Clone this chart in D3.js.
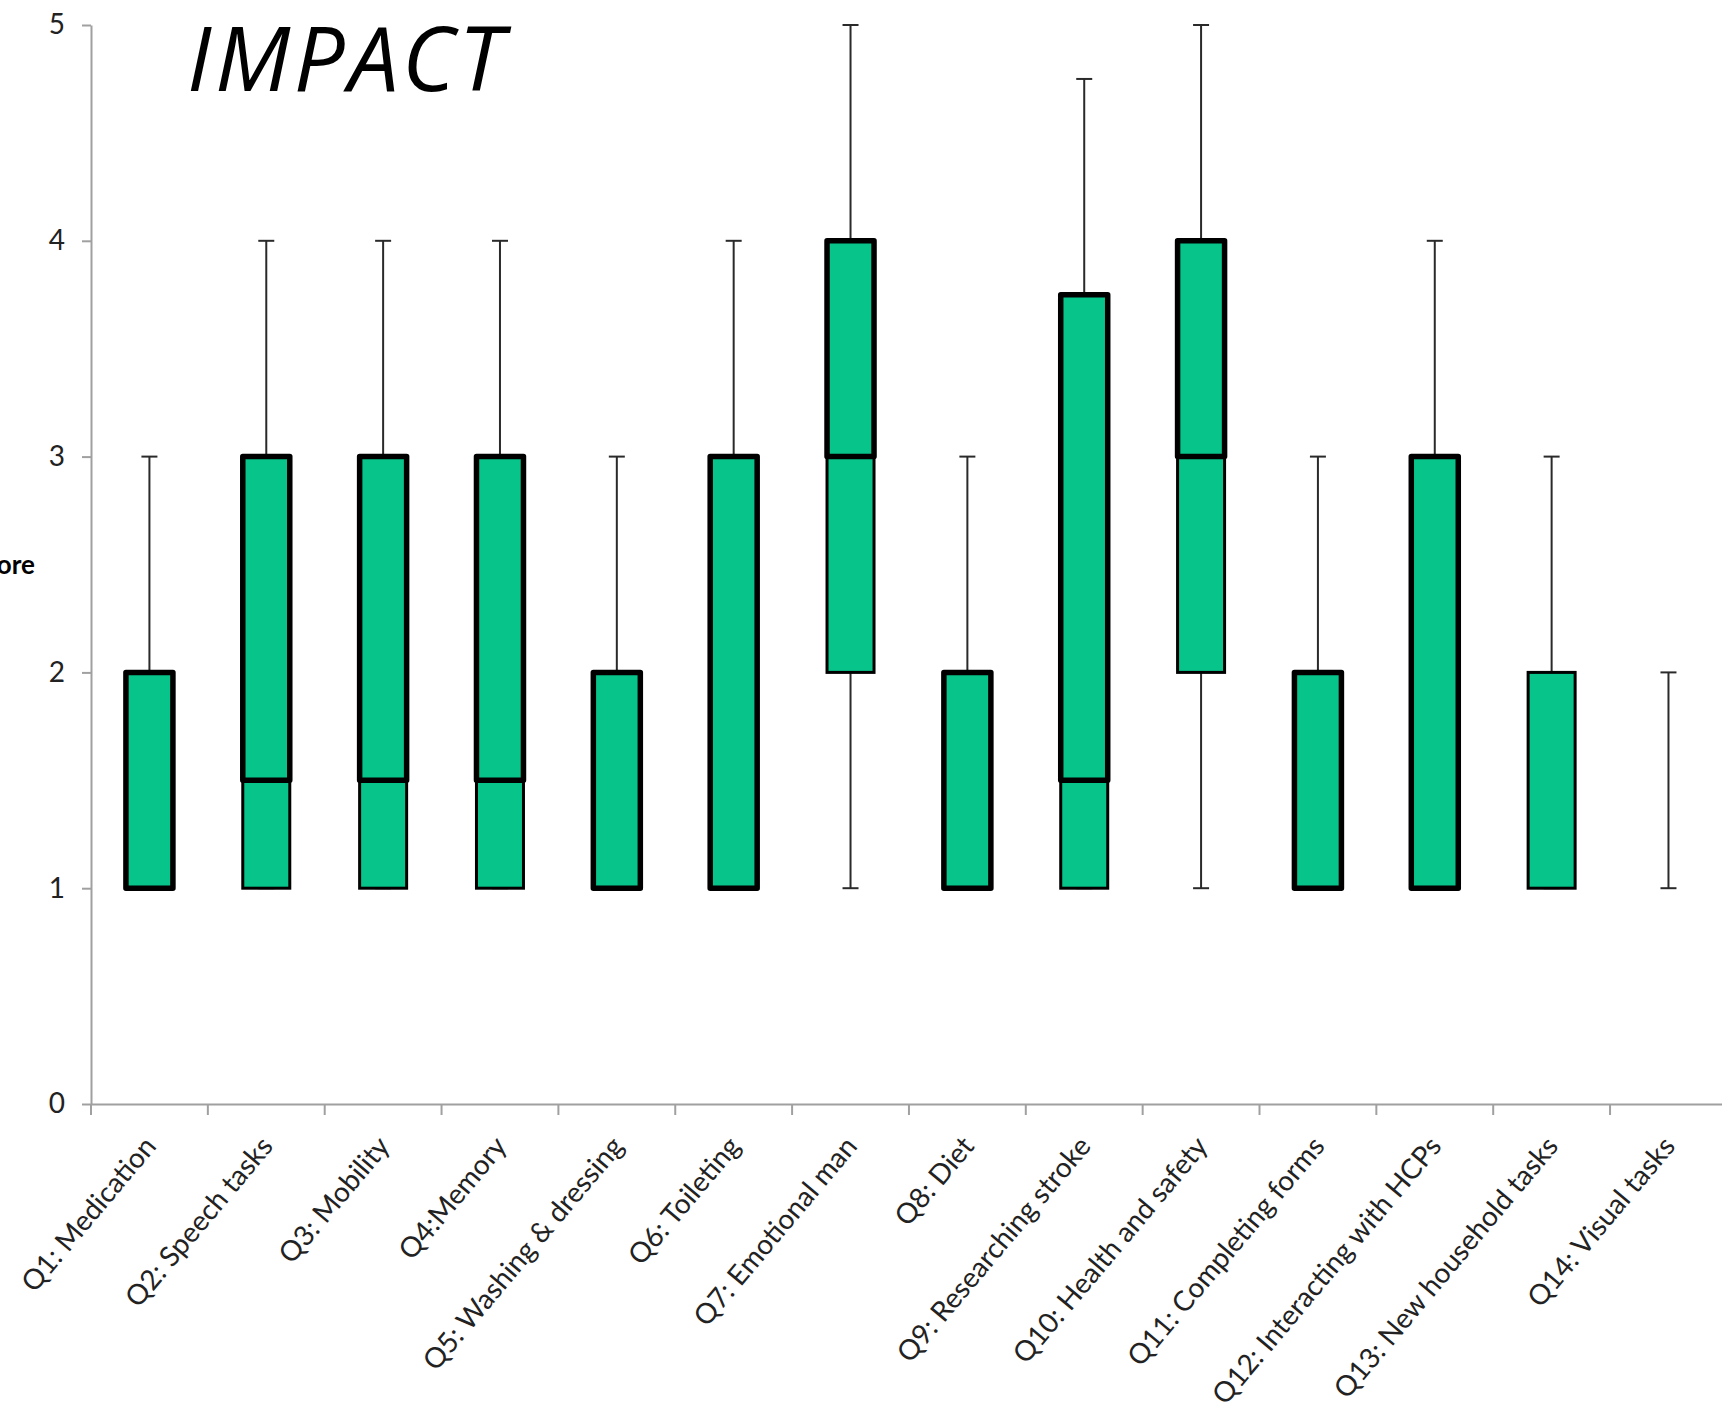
<!DOCTYPE html>
<html>
<head>
<meta charset="utf-8">
<script src="https://cdn.jsdelivr.net/npm/d3@7"></script>
<style>
  html, body { margin: 0; padding: 0; background: #fff; }
  svg { display: block; }
</style>
</head>
<body>
<div id="chart"></div>
<script>
// Box plot drawn Excel-style: lower half (Q1 -> median) thin outline,
// upper half (median -> Q3) heavy outline, whiskers min -> max.

const categories = [
  "Q1: Medication", "Q2: Speech tasks", "Q3: Mobility", "Q4:Memory",
  "Q5: Washing & dressing", "Q6: Toileting", "Q7: Emotional man", "Q8: Diet",
  "Q9: Researching stroke", "Q10: Health and safety", "Q11: Completing forms",
  "Q12: Interacting with HCPs", "Q13: New household tasks", "Q14: Visual tasks"
];
const minVals    = [1, 1,   1,   1,   1, 1, 1, 1, 1,    1, 1, 1, 1, 1];
const q1Vals     = [1, 1,   1,   1,   1, 1, 2, 1, 1,    2, 1, 1, 1, 1];
const medianVals = [1, 1.5, 1.5, 1.5, 1, 1, 3, 1, 1.5,  3, 1, 1, 2, 1];
const q3Vals     = [2, 3,   3,   3,   2, 3, 4, 2, 3.75, 4, 2, 3, 2, 1];
const maxVals    = [3, 4,   4,   4,   3, 4, 5, 3, 4.75, 5, 3, 4, 3, 2];
const yTicks = [0, 1, 2, 3, 4, 5];

const W = 1722, H = 1411;
const margin = { left: 91, top: 25, bottom: 307 };
const bandW = 116.85;

const data = categories.map((c, i) => ({
  cat: c, min: minVals[i], q1: q1Vals[i], med: medianVals[i], q3: q3Vals[i], max: maxVals[i]
}));

const svg = d3.select("#chart").append("svg")
  .attr("width", W)
  .attr("height", H)
  .attr("viewBox", `0 0 ${W} ${H}`);

svg.append("rect").attr("width", W).attr("height", H).attr("fill", "#fff");

// Scales
const x = d3.scaleBand()
  .domain(categories)
  .range([margin.left, margin.left + bandW * categories.length])
  .padding(0);
const y = d3.scaleLinear()
  .domain([0, 5])
  .range([H - margin.bottom, margin.top]);

const boxW = 47;
const capW = 16;
const FILL = "#06c48a";
const AXIS = "#a0a0a0";

// Y axis
const yAxisG = svg.append("g")
  .attr("transform", `translate(${margin.left},0)`)
  .call(d3.axisLeft(y).tickValues(yTicks).tickFormat(d3.format("d"))
    .tickSize(9).tickSizeOuter(0).tickPadding(17));
yAxisG.select(".domain").attr("stroke", AXIS).attr("stroke-width", 2);
yAxisG.selectAll(".tick line").attr("stroke", AXIS).attr("stroke-width", 2);
yAxisG.selectAll(".tick text")
  .style("font-family", "Lato, 'Open Sans', sans-serif")
  .style("font-size", "28px")
  .attr("fill", "#222");

// X axis (line runs past the right edge like the cropped original)
const xAxisG = svg.append("g")
  .attr("transform", `translate(0,${y(0)})`)
  .call(d3.axisBottom(x).tickSize(11).tickSizeOuter(0));
xAxisG.select(".domain").attr("stroke", AXIS).attr("stroke-width", 2);
xAxisG.selectAll(".tick line")
  .attr("x1", -x.bandwidth() / 2)
  .attr("x2", -x.bandwidth() / 2)
  .attr("stroke", AXIS).attr("stroke-width", 2);
xAxisG.selectAll(".tick text")
  .attr("x", 0).attr("y", 0).attr("dy", 0)
  .attr("text-anchor", "end")
  .attr("transform", "translate(8,43) rotate(-50)")
  .style("font-family", "Lato, 'Open Sans', sans-serif")
  .style("font-size", "28px")
  .attr("fill", "#222");

// Whiskers
const gBox = svg.append("g");
const cx = d => x(d.cat) + x.bandwidth() / 2;

const whisk = gBox.selectAll("g.whisker")
  .data(data)
  .join("g")
  .attr("class", "whisker")
  .attr("stroke", "#2a2a2a")
  .attr("stroke-width", 2);
whisk.append("line")
  .attr("x1", cx).attr("x2", cx)
  .attr("y1", d => y(d.min)).attr("y2", d => y(d.max));
whisk.append("line")
  .attr("x1", d => cx(d) - capW / 2).attr("x2", d => cx(d) + capW / 2)
  .attr("y1", d => y(d.max)).attr("y2", d => y(d.max));
whisk.append("line")
  .attr("x1", d => cx(d) - capW / 2).attr("x2", d => cx(d) + capW / 2)
  .attr("y1", d => y(d.min)).attr("y2", d => y(d.min));

// Lower half of the box: Q1 -> median, thin outline
gBox.selectAll("rect.lower")
  .data(data.filter(d => d.med > d.q1))
  .join("rect")
  .attr("class", "lower")
  .attr("x", d => cx(d) - boxW / 2)
  .attr("width", boxW)
  .attr("y", d => y(d.med))
  .attr("height", d => y(d.q1) - y(d.med))
  .attr("fill", FILL)
  .attr("stroke", "#000")
  .attr("stroke-width", 3);

// Upper half of the box: median -> Q3, heavy outline
gBox.selectAll("rect.upper")
  .data(data.filter(d => d.q3 > d.med))
  .join("rect")
  .attr("class", "upper")
  .attr("x", d => cx(d) - boxW / 2)
  .attr("width", boxW)
  .attr("y", d => y(d.q3))
  .attr("height", d => y(d.med) - y(d.q3))
  .attr("fill", FILL)
  .attr("stroke", "#000")
  .attr("stroke-width", 5.5)
  .attr("stroke-linejoin", "round");

// Axis title, mostly cropped off the left edge
svg.append("text")
  .attr("x", 35)
  .attr("y", y(2.5) + 9)
  .attr("text-anchor", "end")
  .style("font-family", "Lato, 'Open Sans', sans-serif")
  .style("font-size", "26px")
  .style("font-weight", "bold")
  .text("Score");

// Title
svg.append("text")
  .attr("x", 187)
  .attr("y", 91)
  .style("font-family", "'Open Sans', sans-serif")
  .style("font-style", "italic")
  .style("font-size", "90px")
  .style("letter-spacing", "3.5px")
  .text("IMPACT");
</script>
</body>
</html>
